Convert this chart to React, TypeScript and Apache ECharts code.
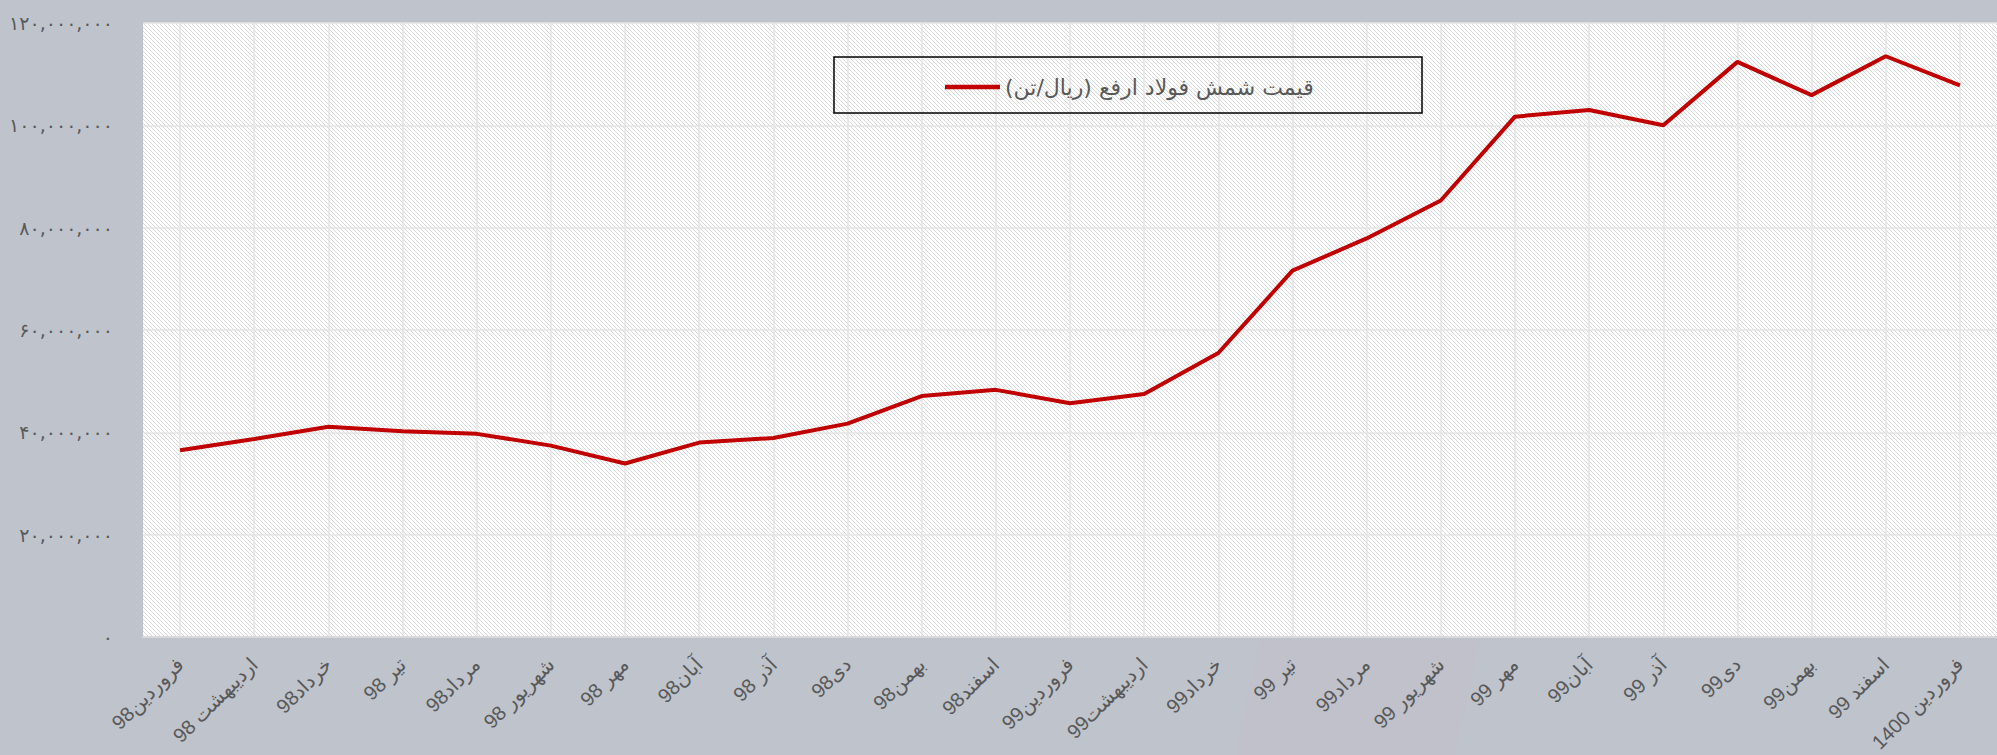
import { useEffect, useRef } from 'react';
import * as echarts from 'echarts';

const categories: string[] = [
  'فروردین98', 'اردیبهشت 98', 'خرداد98', 'تیر 98', 'مرداد98', 'شهریور 98', 'مهر 98',
  'آبان98', 'آذر 98', 'دی98', 'بهمن98', 'اسفند98', 'فروردین99', 'اردیبهشت99',
  'خرداد99', 'تیر 99', 'مرداد99', 'شهریور 99', 'مهر 99', 'آبان99', 'آذر 99',
  'دی99', 'بهمن99', 'اسفند 99', 'فروردین 1400',
];

const priceValues: number[] = [
  36500000, 38700000, 41100000, 40200000, 39700000, 37400000, 33900000,
  38000000, 38900000, 41700000, 47100000, 48300000, 45700000, 47500000,
  55500000, 71600000, 77900000, 85300000, 101700000, 103000000, 100000000,
  112400000, 105900000, 113500000, 107800000,
];

const seriesName = 'قیمت شمش فولاد ارفع (ریال/تن)';

const yTickValues: number[] = [0, 20000000, 40000000, 60000000, 80000000, 100000000, 120000000];
const yTickLabels: string[] = [
  '۰', '۲۰,۰۰۰,۰۰۰', '۴۰,۰۰۰,۰۰۰', '۶۰,۰۰۰,۰۰۰', '۸۰,۰۰۰,۰۰۰', '۱۰۰,۰۰۰,۰۰۰', '۱۲۰,۰۰۰,۰۰۰',
];

function makeHatch(): HTMLCanvasElement {
  const c = document.createElement('canvas');
  c.width = 4;
  c.height = 4;
  const ctx = c.getContext('2d')!;
  ctx.fillStyle = '#ffffff';
  ctx.fillRect(0, 0, 4, 4);
  ctx.fillStyle = '#d9d9d9';
  for (let i = 0; i < 4; i++) ctx.fillRect(i, i, 1, 1);
  return c;
}

export default function App() {
  const ref = useRef<HTMLDivElement>(null);

  useEffect(() => {
    if (!ref.current) return;
    const chart = echarts.init(ref.current, null, { renderer: 'svg' });
    const hatch = makeHatch();
    chart.setOption({
      animation: false,
      backgroundColor: '#bfc3cc',
      graphic: [
        {
          type: 'polygon',
          z: -10,
          silent: true,
          shape: { points: [[1235, 755], [1260, 640], [1480, 640], [1455, 755]] },
          style: { fill: 'rgba(194,190,200,0.3)' },
        },
        {
          type: 'rect',
          z: 10,
          silent: true,
          shape: { x: 834, y: 57, width: 588, height: 56 },
          style: { fill: 'none', stroke: '#000000', lineWidth: 1.5 },
        },
      ],
      grid: {
        left: 143,
        right: 0,
        top: 23,
        bottom: 118,
        show: true,
        borderWidth: 0,
        backgroundColor: { image: hatch, repeat: 'repeat', imageWidth: 4, imageHeight: 4 },
      },
      legend: {
        show: true,
        left: 940,
        top: 71,
        icon: 'rect',
        itemWidth: 55,
        itemHeight: 4.5,
        itemGap: 10,
        textStyle: { fontSize: 22, color: '#595959', fontFamily: 'DejaVu Sans' },
        data: [seriesName],
      },
      xAxis: {
        type: 'category',
        data: categories,
        boundaryGap: true,
        axisLine: { show: true, lineStyle: { color: '#d9d9d9', width: 2 } },
        axisTick: { show: false, alignWithLabel: true },
        splitLine: { show: true, alignWithLabel: true, lineStyle: { color: '#e4e4e4', width: 1.5 } },
        axisLabel: {
          interval: 0,
          rotate: 45,
          margin: 24,
          color: '#595959',
          fontSize: 20,
          fontFamily: 'Liberation Sans, DejaVu Sans',
        },
      },
      yAxis: {
        type: 'value',
        min: 0,
        max: 120000000,
        interval: 20000000,
        axisLine: { show: false },
        axisTick: { show: false },
        splitLine: { show: true, lineStyle: { color: '#e4e4e4', width: 1.5 } },
        axisLabel: {
          margin: 30,
          color: '#595959',
          fontSize: 19,
          fontFamily: 'DejaVu Sans',
          padding: [0, 0, 8, 0],
          formatter: (v: number) => {
            const i = yTickValues.indexOf(v);
            return i >= 0 ? yTickLabels[i] : '';
          },
        },
      },
      series: [
        {
          name: seriesName,
          type: 'line',
          data: priceValues,
          showSymbol: false,
          symbol: 'none',
          lineStyle: { color: '#c00000', width: 4 },
          itemStyle: { color: '#c00000' },
        },
      ],
    });
    return () => chart.dispose();
  }, []);

  return (
    <div
      ref={ref}
      style={{ position: 'fixed', left: 0, top: 0, width: 1997, height: 755 }}
    />
  );
}
